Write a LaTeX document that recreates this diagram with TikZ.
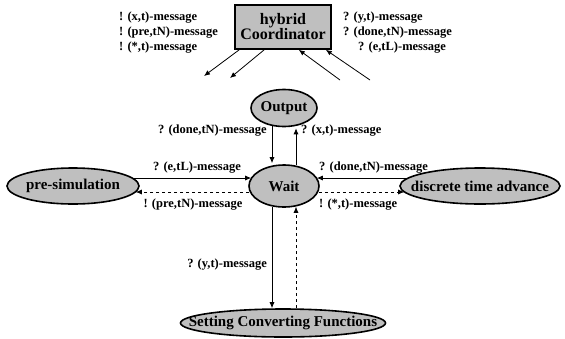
\documentclass[tikz,border=0pt]{standalone}
\usepackage{fontspec}
\setmainfont{Liberation Serif}
\usetikzlibrary{arrows.meta, shapes.geometric}

\begin{document}
\begin{tikzpicture}[
    x=1pt, y=-1pt,
    state/.style={ellipse, draw=black, line width=1.6pt, fill=black!25, inner xsep=-30pt, inner ysep=0pt, font=\fontsize{15}{17}\selectfont\bfseries},
    coord/.style={rectangle, draw=black, line width=1.6pt, fill=black!25, align=center, minimum width=96pt, minimum height=44pt, inner sep=1pt, font=\fontsize{16}{18}\selectfont\bfseries},
    msg/.style={inner sep=1pt, font=\fontsize{12.5}{14}\selectfont\bfseries},
    tip/.style={-{Latex[length=6pt, width=5pt]}, thick},
    dtip/.style={-{Latex[length=6pt, width=5pt]}, dashed, semithick}
    ]
    \useasboundingbox (0,0) rectangle (565,338);

    %Nodes
    \node[coord] at (283, 27) (hc) {hybrid\\[-3pt]Coordinator};
    \node[state, minimum width=66pt, minimum height=37pt] at (284, 108) (out) {Output};
    \node[state, minimum width=70pt, minimum height=42pt] at (284, 186) (wait) {Wait};
    \node[state, minimum width=132pt, minimum height=36pt] at (73, 186) (pre) {pre-simulation};
    \node[state, minimum width=160pt, minimum height=36pt] at (480, 186) (dta) {discrete time advance};
    \node[state, minimum width=205pt, minimum height=28pt] at (283, 323) (scf) {Setting Converting Functions};

    %Labels
    \node[msg, anchor=west] at (118, 18) (m1) {! (x,t)-message};
    \node[msg, anchor=west] at (118, 33) (m2) {! (pre,tN)-message};
    \node[msg, anchor=west] at (118, 48) (m3) {! (*,t)-message};
    \node[msg, anchor=west] at (342, 18) (m4) {? (y,t)-message};
    \node[msg, anchor=west] at (342, 33) (m5) {? (done,tN)-message};
    \node[msg, anchor=west] at (357, 48) (m6) {? (e,tL)-message};
    \node[msg, anchor=east] at (268, 131) (m7) {? (done,tN)-message};
    \node[msg, anchor=west] at (300, 131) (m8) {? (x,t)-message};
    \node[msg] at (197, 168) (m9) {? (e,tL)-message};
    \node[msg] at (193, 205) (m10) {! (pre,tN)-message};
    \node[msg, anchor=west] at (318, 168) (m11) {? (done,tN)-message};
    \node[msg, anchor=west] at (318, 205) (m12) {! (*,t)-message};
    \node[msg, anchor=east] at (268, 265) (m13) {? (y,t)-message};

    %Free ends
    \coordinate (t1) at (204, 76);
    \coordinate (t2) at (230, 78);
    \coordinate (s1) at (340, 80);
    \coordinate (s2) at (370, 80);

    %Lines
    \draw[tip] ([xshift=5pt]hc.south west) -- (t1);
    \draw[tip] ([xshift=30pt]hc.south west) -- (t2);
    \draw[tip] (s1) -- ([xshift=-33pt]hc.south east);
    \draw[tip] (s2) -- ([xshift=-6pt]hc.south east);

    \draw[tip] ([xshift=-12pt, yshift=1pt]out.south) -- ([xshift=-12pt, yshift=1pt]wait.north);
    \draw[tip] ([xshift=12pt, yshift=-1pt]wait.north) -- ([xshift=12pt, yshift=-1pt]out.south);
    \draw[tip] ([shift={(-7pt,8pt)}]pre.east) -- ([shift={(3pt,8pt)}]wait.west);
    \draw[dtip] ([shift={(1pt,-6pt)}]wait.west) -- ([shift={(-4pt,-6pt)}]pre.east);
    \draw[tip] ([shift={(8pt,8pt)}]dta.west) -- ([shift={(-3pt,8pt)}]wait.east);
    \draw[dtip] ([shift={(-1pt,-6pt)}]wait.east) -- ([shift={(5pt,-6pt)}]dta.west);
    \draw[tip] ([xshift=-12pt, yshift=1pt]wait.south) -- ([xshift=-11pt]scf.north);
    \draw[dtip] ([xshift=13pt]scf.north) -- ([xshift=12pt, yshift=1pt]wait.south);
\end{tikzpicture}
\end{document}
